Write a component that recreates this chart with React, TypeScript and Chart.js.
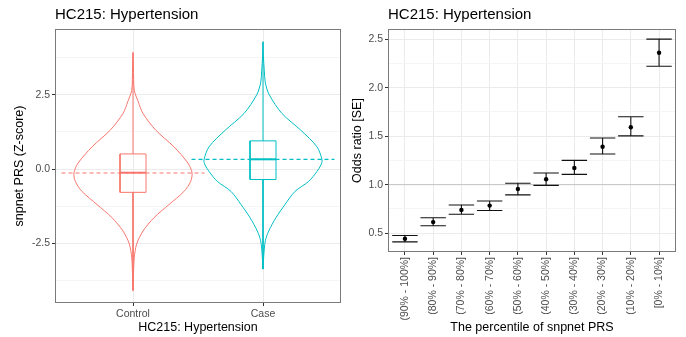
import React, { useEffect, useRef } from 'react';
import { Chart, registerables } from 'chart.js';
Chart.register(...registerables);

const FONT = "'Liberation Sans', Arial, Helvetica, sans-serif";
const TITLE = 'HC215: Hypertension';

// ---------- left panel data ----------
const groups = ['Control', 'Case'];
const groupColors = ['#F8766D', '#00BFC4'];

// violin outline: y levels (top -> bottom) and half widths (category units)
const controlViolinY = [3.92, 3.5, 3.0, 2.64, 2.27, 1.87, 1.31, 0.75, 0.2, -0.12, -0.41, -0.75, -1.19, -1.63, -2.08, -2.52, -2.97, -3.5, -4.08];
const controlViolinHW = [0, 0.003, 0.005, 0.01, 0.04, 0.077, 0.175, 0.315, 0.423, 0.454, 0.444, 0.392, 0.277, 0.162, 0.077, 0.028, 0.01, 0.004, 0];
const caseViolinY = [4.28, 3.8, 3.31, 2.9, 2.5, 1.87, 1.31, 0.75, 0.31, 0.14, -0.08, -0.41, -0.75, -1.19, -1.63, -2.08, -2.41, -2.9, -3.36];
const caseViolinHW = [0, 0.003, 0.01, 0.018, 0.048, 0.146, 0.29, 0.415, 0.454, 0.446, 0.415, 0.352, 0.246, 0.169, 0.1, 0.044, 0.018, 0.006, 0];

// box stats: [min, q1, median, q3, max]
const controlBox = [-4.08, -0.78, -0.12, 0.51, 3.92];
const caseBox = [-3.36, -0.35, 0.33, 0.95, 4.28];
// dashed reference level per group
const groupMeans = [-0.13, 0.33];

const leftYMajor = [-2.5, 0, 2.5];
const leftYMajorLabels = ['-2.5', '0.0', '2.5'];
const leftYMinor = [-3.75, -1.25, 1.25, 3.75];

// ---------- right panel data ----------
const percentileLabels = ['(90% - 100%]', '(80% - 90%]', '(70% - 80%]', '(60% - 70%]', '(50% - 60%]', '(40% - 50%]', '(30% - 40%]', '(20% - 30%]', '(10% - 20%]', '[0% - 10%]'];
const oddsRatio = [0.442, 0.614, 0.74, 0.784, 0.955, 1.055, 1.172, 1.39, 1.592, 2.36];
const orLower = [0.41, 0.576, 0.695, 0.733, 0.895, 0.993, 1.106, 1.316, 1.503, 2.22];
const orUpper = [0.476, 0.659, 0.791, 0.832, 1.014, 1.12, 1.25, 1.48, 1.70, 2.50];
const refLine = 1.0;

const rightYMajor = [0.5, 1.0, 1.5, 2.0, 2.5];
const rightYMajorLabels = ['0.5', '1.0', '1.5', '2.0', '2.5'];
const rightYMinor = [0.75, 1.25, 1.75, 2.25];

// ---------- styles ----------
const GRID_MAJOR = '#EBEBEB';
const GRID_MINOR = '#F5F5F5';
const TICK_COL = '#333333';
const TICK_LABEL = '#4D4D4D';
const BORDER = '#7A7A7A';
const BOX_HALF = 0.1;
const DASH_HALF = 0.55;
const CAP_HALF = 0.45;

const panelPlugin = {
  id: 'panel',
  afterDatasetsDraw(chart: any) {
    const { ctx, chartArea: a } = chart;
    ctx.save();
    ctx.strokeStyle = BORDER;
    ctx.lineWidth = 1;
    const l = Math.round(a.left) + 0.5;
    const t = Math.round(a.top) + 0.5;
    const r = Math.round(a.right) - 0.5;
    const b = Math.round(a.bottom) - 0.5;
    ctx.strokeRect(l, t, r - l, b - t);
    ctx.restore();
  },
  afterDraw(chart: any, _args: any, opts: any) {
    const { ctx, chartArea: a } = chart;
    ctx.save();
    ctx.fillStyle = '#000';
    ctx.font = `15px ${FONT}`;
    ctx.textAlign = 'left';
    ctx.textBaseline = 'middle';
    ctx.fillText(opts.title || '', a.left, 15);
    ctx.restore();
  },
};

function yAxis(min: number, max: number, major: number[], labels: string[], minor: number[], width: number, title: string, titlePad: number) {
  const all = [...major, ...minor].sort((p, q) => p - q);
  const isMinor = (v: number) => minor.indexOf(v) >= 0;
  return {
    type: 'linear',
    min,
    max,
    afterBuildTicks: (s: any) => {
      s.ticks = all.map((v) => ({ value: v }));
    },
    afterFit: (s: any) => {
      s.width = width;
    },
    border: { display: false },
    grid: {
      color: (c: any) => (c.tick && isMinor(c.tick.value) ? GRID_MINOR : GRID_MAJOR),
      tickColor: (c: any) => (c.tick && isMinor(c.tick.value) ? 'rgba(0,0,0,0)' : TICK_COL),
      lineWidth: 1,
      tickWidth: 1,
      tickLength: 3,
    },
    ticks: {
      autoSkip: false,
      padding: 2,
      color: TICK_LABEL,
      font: { family: FONT, size: 10.5 },
      callback: (v: number) => {
        const i = major.indexOf(v);
        return i >= 0 ? labels[i] : '';
      },
    },
    title: {
      display: true,
      text: title,
      color: '#000',
      font: { family: FONT, size: 12.5 },
      padding: { top: titlePad, bottom: 0 },
    },
  };
}

function xAxis(min: number, max: number, labels: string[], height: number, title: string, rotate: boolean) {
  return {
    type: 'linear',
    min,
    max,
    afterBuildTicks: (s: any) => {
      s.ticks = labels.map((_, i) => ({ value: i + 1 }));
    },
    afterFit: (s: any) => {
      s.height = height;
    },
    border: { display: false },
    grid: {
      color: GRID_MAJOR,
      tickColor: TICK_COL,
      lineWidth: 1,
      tickWidth: 1,
      tickLength: 3,
    },
    ticks: {
      autoSkip: false,
      padding: 2,
      color: TICK_LABEL,
      font: { family: FONT, size: 10.5 },
      minRotation: rotate ? 90 : 0,
      maxRotation: rotate ? 90 : 0,
      callback: (v: number) => labels[Math.round(v) - 1] ?? '',
    },
    title: {
      display: true,
      text: title,
      color: '#000',
      font: { family: FONT, size: 12.5 },
      padding: { top: 0, bottom: 1.5 },
    },
  };
}

function line(data: any[], color: string, width = 1, extra: any = {}) {
  return {
    data,
    showLine: true,
    borderColor: color,
    backgroundColor: color,
    borderWidth: width,
    pointRadius: 0,
    pointHoverRadius: 0,
    fill: false,
    tension: 0,
    ...extra,
  };
}

function violinPath(center: number, ys: number[], hws: number[]) {
  const right = ys.map((y, i) => ({ x: center + hws[i], y }));
  const left = ys.map((y, i) => ({ x: center - hws[i], y })).reverse();
  return [...right, ...left.slice(1)];
}

function leftConfig(): any {
  const violins = [
    { ys: controlViolinY, hws: controlViolinHW },
    { ys: caseViolinY, hws: caseViolinHW },
  ];
  const boxes = [controlBox, caseBox];
  const top: any[] = [];
  const mid: any[] = [];
  const bottom: any[] = [];
  groups.forEach((_, gi) => {
    const c = gi + 1;
    const col = groupColors[gi];
    const [mn, q1, med, q3, mx] = boxes[gi];
    top.push(line([{ x: c - BOX_HALF, y: med }, { x: c + BOX_HALF, y: med }], col, 2));
    top.push(
      line(
        [
          { x: c - BOX_HALF, y: q1 },
          { x: c + BOX_HALF, y: q1 },
          { x: c + BOX_HALF, y: q3 },
          { x: c - BOX_HALF, y: q3 },
          { x: c - BOX_HALF, y: q1 },
        ],
        col,
        1
      )
    );
    top.push(line([{ x: c, y: q3 }, { x: c, y: mx }], col, 1));
    top.push(line([{ x: c, y: q1 }, { x: c, y: mn }], col, 1));
    mid.push(line([{ x: c - DASH_HALF, y: groupMeans[gi] }, { x: c + DASH_HALF, y: groupMeans[gi] }], col, 1.2, { borderDash: [4, 3] }));
    bottom.push(line(violinPath(c, violins[gi].ys, violins[gi].hws), col, 1, { tension: 0.3 }));
  });
  return {
    type: 'scatter',
    data: { datasets: [...top, ...mid, ...bottom] },
    plugins: [panelPlugin],
    options: {
      responsive: false,
      animation: false,
      devicePixelRatio: 1,
      events: [],
      layout: { padding: { top: 29, right: 2, left: 0, bottom: 0 } },
      plugins: { legend: { display: false }, tooltip: { enabled: false }, panel: { title: TITLE } },
      scales: {
        x: xAxis(0.4, 2.6, groups, 34, TITLE, false),
        y: yAxis(-4.5, 4.71, leftYMajor, leftYMajorLabels, leftYMinor, 55, 'snpnet PRS (Z-score)', 12.5),
      },
    },
  };
}

function rightConfig(): any {
  const bars: any[] = percentileLabels.map((_, i) => {
    const c = i + 1;
    return line(
      [
        { x: c - CAP_HALF, y: orLower[i] },
        { x: c + CAP_HALF, y: orLower[i] },
        { x: c, y: orLower[i] },
        { x: c, y: orUpper[i] },
        { x: c - CAP_HALF, y: orUpper[i] },
        { x: c + CAP_HALF, y: orUpper[i] },
      ],
      '#111111',
      1.1
    );
  });
  const points = {
    data: oddsRatio.map((v, i) => ({ x: i + 1, y: v })),
    showLine: false,
    pointRadius: 2.2,
    pointHoverRadius: 2.2,
    pointBorderWidth: 0,
    backgroundColor: '#000',
    borderColor: '#000',
  };
  const ref = line([{ x: 0.4, y: refLine }, { x: 10.6, y: refLine }], '#C4C4C4', 1);
  return {
    type: 'scatter',
    data: { datasets: [points, ...bars, ref] },
    plugins: [panelPlugin],
    options: {
      responsive: false,
      animation: false,
      devicePixelRatio: 1,
      events: [],
      layout: { padding: { top: 29, right: 10, left: 0, bottom: 0 } },
      plugins: { legend: { display: false }, tooltip: { enabled: false }, panel: { title: TITLE } },
      scales: {
        x: xAxis(0.4, 10.6, percentileLabels, 85, 'The percentile of snpnet PRS', true),
        y: yAxis(0.306, 2.604, rightYMajor, rightYMajorLabels, rightYMinor, 45, 'Odds ratio [SE]', 7.5),
      },
    },
  };
}

function ChartCanvas({ make, width, height }: { make: () => any; width: number; height: number }) {
  const ref = useRef<HTMLCanvasElement | null>(null);
  useEffect(() => {
    if (!ref.current) return;
    const chart = new Chart(ref.current, make());
    return () => chart.destroy();
  }, [make]);
  return <canvas ref={ref} width={width} height={height} style={{ display: 'block', width, height }} />;
}

export default function App() {
  return (
    <div style={{ position: 'absolute', left: 0, top: 0, width: 686, height: 337, background: '#fff', display: 'flex' }}>
      <ChartCanvas make={leftConfig} width={343} height={337} />
      <ChartCanvas make={rightConfig} width={343} height={337} />
    </div>
  );
}
